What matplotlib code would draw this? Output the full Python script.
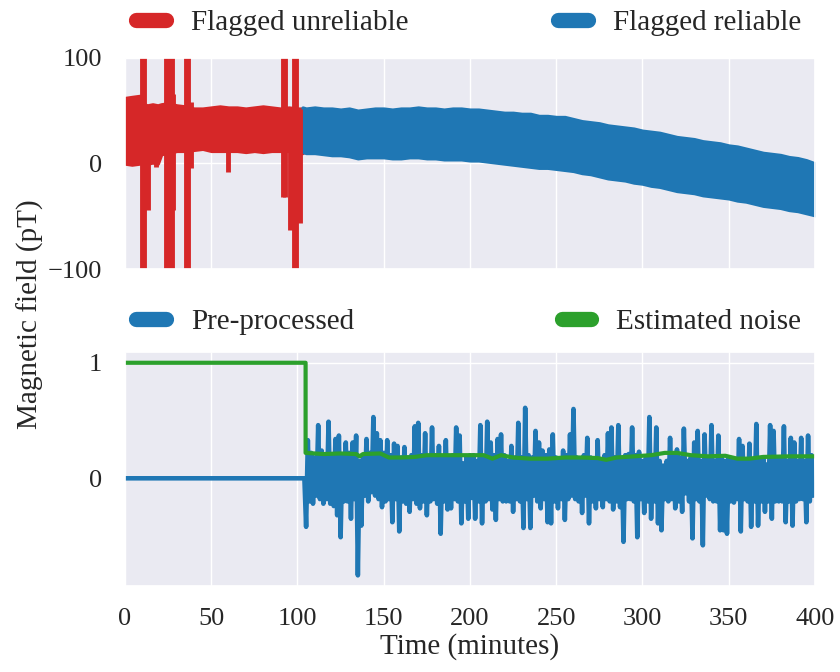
import numpy as np
import matplotlib.pyplot as plt
import seaborn as sns
from matplotlib.lines import Line2D

# ---- top panel: raw field (pT), envelope of the dense trace ----
red_t = [0, 4, 8.5, 11, 13, 16, 19, 21, 25, 30, 35, 40, 45, 50, 55, 60, 65, 70, 75, 80, 85, 90, 95, 100, 103]
red_hi = [62, 63, 64, 56, 55, 56, 55, 56, 57, 55, 54, 52, 52, 53, 54, 53, 53, 52, 53, 54, 53, 52, 53, 52, 52]
red_lo = [0, -1, 0, 1, 0, 1, 0, 9, 10, 12, 12, 13, 14, 12, 12, 12, 12, 11, 12, 11, 12, 12, 12, 10, 10]

# spikes in the unreliable part: time, low, high
spike_t = [9.8, 10.8, 13.5, 18, 24, 25.5, 27, 27.8, 35.5, 36.8, 38.5, 60, 91.5, 92.8, 95.7, 98, 99, 101.4]
spike_lo = [-110, -110, -44, -3, -110, -110, -110, -44, -110, -110, -4, -8, -32, -32, -63, -110, -110, -56]
spike_hi = [110, 110, 55, 55, 110, 110, 110, 66, 110, 110, 58, 52, 110, 110, 52, 110, 110, 52]

blue_t = [103, 105, 110, 115, 120, 125, 130, 135, 140, 145, 150, 155, 160, 165, 170, 175, 180,
          185, 190, 195, 200, 205, 210, 215, 220, 225, 230, 235, 240, 245, 250, 255, 260, 265,
          270, 275, 280, 285, 290, 295, 300, 305, 310, 315, 320, 325, 330, 335, 340, 345, 350,
          355, 360, 365, 370, 375, 380, 385, 390, 395, 400]
blue_hi = [53, 52, 53, 52, 52, 51, 52, 50, 51, 52, 52, 51, 52, 52, 53, 52, 52,
           51, 52, 52, 51, 51, 50, 49, 48, 48, 47, 47, 45, 45, 44, 44, 42, 40,
           39, 38, 36, 35, 34, 33, 31, 30, 29, 27, 25, 24, 23, 21, 20, 19, 17,
           16, 14, 12, 10, 9, 8, 6, 5, 3, 0]
blue_lo = [11, 10, 10, 9, 8, 8, 7, 5, 6, 6, 6, 5, 5, 6, 6, 5, 5,
           4, 4, 4, 3, 3, 2, 1, 0, -1, -2, -3, -4, -4, -5, -6, -7, -9,
           -10, -12, -14, -15, -16, -18, -19, -21, -22, -24, -26, -27, -28, -30, -31, -32, -33,
           -35, -36, -38, -40, -41, -42, -44, -45, -47, -49]

# ---- bottom panel: pre-processed signal (one value per minute from 105) ----
pre_t = [0, 104]
pre_v = [0, 0]
noise_v = [
    -0.42, 0.33, -0.20, 0.22, -0.22, 0.18, -0.15, 0.46, -0.18, 0.24,   # 105
    -0.22, 0.20, -0.18, 0.49, -0.22, 0.20, -0.24, 0.34, -0.32, 0.37,   # 115
    -0.51, 0.20, -0.20, 0.31, -0.20, 0.22, -0.35, 0.31, -0.18, 0.37,   # 125
    -0.84, 0.15, -0.41, 0.20, -0.15, 0.34, -0.20, 0.22, -0.12, 0.53,   # 135
    -0.15, 0.39, -0.18, 0.33, -0.25, 0.22, -0.20, 0.33, -0.18, 0.20,   # 145
    -0.38, 0.30, -0.18, 0.28, -0.46, 0.18, -0.20, 0.27, -0.22, 0.18,   # 155
    -0.29, 0.20, -0.18, 0.45, -0.22, 0.48, -0.26, 0.20, -0.20, 0.39,   # 165
    -0.32, 0.18, -0.20, 0.44, -0.18, 0.20, -0.22, 0.28, -0.48, 0.18,   # 175
    -0.20, 0.33, -0.27, 0.18, -0.26, 0.20, -0.18, 0.44, -0.20, 0.37,   # 185
    -0.39, 0.13, -0.20, 0.18, -0.35, 0.20, -0.17, 0.20, -0.35, 0.15,   # 195
    -0.20, 0.46, -0.39, 0.18, -0.20, 0.49, -0.18, 0.31, -0.27, 0.20,   # 205
    -0.36, 0.34, -0.18, 0.38, -0.20, 0.20, -0.20, 0.15, -0.20, 0.28,   # 215
    -0.29, 0.18, -0.18, 0.48, -0.20, 0.18, -0.43, 0.61, -0.18, 0.20,   # 225
    -0.43, 0.18, -0.15, 0.41, -0.20, 0.31, -0.26, 0.24, -0.18, 0.20,   # 235
    -0.38, 0.25, -0.39, 0.38, -0.20, 0.18, -0.26, 0.15, -0.18, 0.24,   # 245
    -0.36, 0.20, -0.18, 0.38, -0.15, 0.60, -0.18, 0.18, -0.20, 0.15,   # 255
    -0.30, 0.20, -0.15, 0.35, -0.39, 0.18, -0.20, 0.15, -0.26, 0.33,   # 265
    -0.18, 0.15, -0.25, 0.20, -0.18, 0.39, -0.20, 0.44, -0.27, 0.18,   # 275
    -0.20, 0.46, -0.25, 0.15, -0.55, 0.20, -0.18, 0.21, -0.18, 0.44,   # 285
    -0.20, 0.20, -0.51, 0.23, -0.18, 0.15, -0.30, 0.18, -0.20, 0.53,   # 295
    -0.35, 0.20, -0.20, 0.44, -0.39, 0.15, -0.45, 0.11, -0.18, 0.15,   # 305
    -0.20, 0.35, -0.18, 0.20, -0.26, 0.25, -0.20, 0.18, -0.29, 0.43,   # 315
    -0.13, 0.15, -0.20, 0.18, -0.52, 0.31, -0.18, 0.41, -0.20, 0.15,   # 325
    -0.58, 0.38, -0.15, 0.18, -0.18, 0.46, -0.20, 0.15, -0.20, 0.37,   # 335
    -0.45, 0.18, -0.45, 0.15, -0.48, 0.18, -0.20, 0.15, -0.21, 0.15,   # 345
    -0.18, 0.34, -0.46, 0.28, -0.18, 0.15, -0.20, 0.30, -0.42, 0.15,   # 355
    -0.20, 0.47, -0.41, 0.15, -0.20, 0.18, -0.29, 0.12, -0.20, 0.46,   # 365
    -0.35, 0.41, -0.20, 0.18, -0.20, 0.18, -0.20, 0.45, -0.38, 0.15,   # 375
    -0.20, 0.35, -0.41, 0.31, -0.20, 0.15, -0.18, 0.35, -0.18, 0.15,   # 385
    -0.38, 0.37, -0.20, 0.20, -0.15, -0.06,                            # 395
]
noise_t = np.arange(105, 105 + len(noise_v))

est_t = [0, 104.7, 104.7, 115, 125, 134, 136, 138, 148, 153, 160, 168, 175, 190, 200, 208, 213,
         218, 225, 235, 245, 255, 265, 274, 279, 285, 295, 305, 313, 320, 328, 338, 348, 355,
         362, 370, 385, 400]
est_v = [1.0, 1.0, 0.22, 0.21, 0.215, 0.21, 0.19, 0.21, 0.215, 0.18, 0.18, 0.185, 0.2, 0.2,
         0.2, 0.2, 0.17, 0.2, 0.18, 0.17, 0.17, 0.18, 0.18, 0.175, 0.16, 0.18, 0.19, 0.2, 0.22,
         0.22, 0.2, 0.19, 0.195, 0.17, 0.17, 0.185, 0.19, 0.19]

RED = '#d62728'
BLUE = '#1f77b4'
GREEN = '#2ca02c'

sns.set_theme(style='darkgrid')
plt.rcParams['font.family'] = ['Liberation Serif', 'DejaVu Serif']
plt.rcParams['xtick.labelsize'] = 19
plt.rcParams['ytick.labelsize'] = 19
plt.rcParams['axes.labelsize'] = 21
plt.rcParams['legend.fontsize'] = 21
plt.rcParams['xtick.major.pad'] = 10
plt.rcParams['ytick.major.pad'] = 10.5
plt.rcParams['text.color'] = '#262626'
plt.rcParams['xtick.color'] = '#262626'
plt.rcParams['ytick.color'] = '#262626'

fig = plt.figure(figsize=(8.4, 6.72), dpi=100)
ax1 = fig.add_axes([0.1488, 0.5997, 0.8214, 0.314])
ax2 = fig.add_axes([0.1488, 0.128, 0.8214, 0.348])

# top
ax1.fill_between(red_t, red_lo, red_hi, color=RED, lw=2.5)
ax1.vlines(spike_t, spike_lo, spike_hi, color=RED, lw=3.5)
ax1.fill_between(blue_t, blue_lo, blue_hi, color=BLUE, lw=2.5)
ax1.set_xlim(0, 400)
ax1.set_ylim(-100, 100)
ax1.set_yticks([-100, 0, 100])
ax1.set_xticks(np.arange(0, 401, 50))
ax1.tick_params(labelbottom=False)

leg_kw = dict(loc='center', mode='expand', ncol=2, frameon=False, borderpad=0.2,
              handlelength=1.0, handletextpad=0.88)

h1 = [Line2D([], [], color=RED, lw=11, solid_capstyle='round'),
      Line2D([], [], color=BLUE, lw=11, solid_capstyle='round')]
ax1.legend(h1, ['Flagged unreliable', 'Flagged reliable'],
           bbox_to_anchor=(-0.013, 1.168, 1.023, 0), **leg_kw)

# bottom
ax2.plot(list(pre_t) + list(noise_t), list(pre_v) + list(noise_v), color=BLUE, lw=3.3)
ax2.plot(est_t, est_v, color=GREEN, lw=3.0)
ax2.set_xlim(0, 400)
ax2.set_xticks(np.arange(0, 401, 50))
ax2.set_yticks([0, 1])
ax2.set_xlabel('Time (minutes)', labelpad=2)

h2 = [Line2D([], [], color=BLUE, lw=11, solid_capstyle='round'),
      Line2D([], [], color=GREEN, lw=11, solid_capstyle='round')]
ax2.legend(h2, ['Pre-processed', 'Estimated noise'],
           bbox_to_anchor=(-0.013, 1.128, 1.023, 0), **leg_kw)

fig.text(0.036, 1 - 314 / 672, 'Magnetic field (pT)', rotation=90,
         ha='center', va='center', fontsize=21)

fig.savefig('out.png', dpi=100)
